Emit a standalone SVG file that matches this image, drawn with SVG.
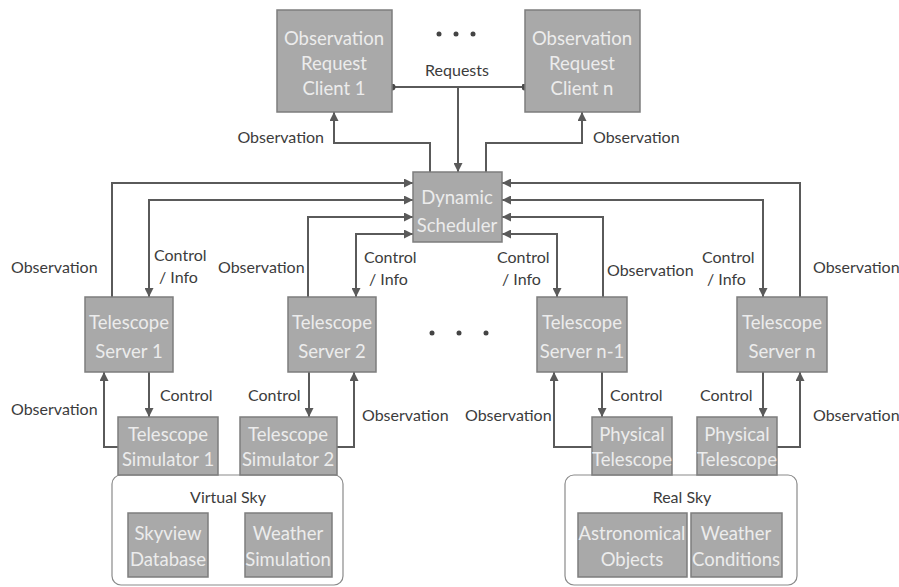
<svg xmlns="http://www.w3.org/2000/svg" width="899" height="587" viewBox="0 0 899 587">
<style>
.box{fill:#a9a9a9;stroke:#7d7d7d;stroke-width:1.5}
.bt{font-family:Lato,"Open Sans",sans-serif;font-size:18.5px;fill:#ececec;text-anchor:middle}
.lb{font-family:Lato,"Open Sans",sans-serif;font-size:16px;fill:#3c3c3c}
.c{fill:none;stroke:#5a5a5a;stroke-width:2}
.cont{fill:#ffffff;stroke:#8a8a8a;stroke-width:1.2}
.dot{fill:#444}
</style>
<defs>
<marker id="ar" viewBox="0 0 10 10" refX="10" refY="5" markerWidth="9" markerHeight="9" markerUnits="userSpaceOnUse" orient="auto-start-reverse">
<path d="M0,0 L10,5 L0,10 z" fill="#5a5a5a"/>
</marker>
<marker id="dt" viewBox="0 0 10 10" refX="5" refY="5" markerWidth="7" markerHeight="7" markerUnits="userSpaceOnUse">
<circle cx="5" cy="5" r="5" fill="#4a4a4a"/>
</marker>
</defs>
<rect width="899" height="587" fill="#ffffff"/>

<g id="virtual-sky">
<rect class="cont" x="112" y="475" width="231" height="110" rx="9"/>
<text class="lb" x="228" y="503" text-anchor="middle">Virtual Sky</text>
</g>
<g id="real-sky">
<rect class="cont" x="565" y="475" width="232" height="110" rx="9"/>
<text class="lb" x="682" y="503" text-anchor="middle">Real Sky</text>
</g>

<g id="connectors">
<path class="c" d="M392,87 H525" marker-start="url(#dt)" marker-end="url(#dt)"/>
<path class="c" d="M458,87 V172" marker-end="url(#ar)"/>
<path class="c" d="M430,172 V143 H334 V112" marker-end="url(#ar)"/>
<path class="c" d="M486,172 V143 H582 V112" marker-end="url(#ar)"/>
<path class="c" d="M112,297 V183 H413" marker-end="url(#ar)"/>
<path class="c" d="M149,297 V200 H413" marker-start="url(#ar)" marker-end="url(#ar)"/>
<path class="c" d="M308,297 V217 H413" marker-end="url(#ar)"/>
<path class="c" d="M356,297 V234 H413" marker-start="url(#ar)" marker-end="url(#ar)"/>
<path class="c" d="M800,297 V183 H502" marker-end="url(#ar)"/>
<path class="c" d="M763,297 V200 H502" marker-start="url(#ar)" marker-end="url(#ar)"/>
<path class="c" d="M603,297 V217 H502" marker-end="url(#ar)"/>
<path class="c" d="M557,297 V234 H502" marker-start="url(#ar)" marker-end="url(#ar)"/>
<path class="c" d="M118,447 H104 V372" marker-end="url(#ar)"/>
<path class="c" d="M149,372 V417" marker-end="url(#ar)"/>
<path class="c" d="M309,372 V417" marker-end="url(#ar)"/>
<path class="c" d="M337,447 H354 V372" marker-end="url(#ar)"/>
<path class="c" d="M592,447 H554 V372" marker-end="url(#ar)"/>
<path class="c" d="M602,372 V417" marker-end="url(#ar)"/>
<path class="c" d="M763,372 V417" marker-end="url(#ar)"/>
<path class="c" d="M777,447 H800 V372" marker-end="url(#ar)"/>
</g>

<g id="labels">
<text class="lb" x="457" y="76" text-anchor="middle">Requests</text>
<text class="lb" x="324" y="143" text-anchor="end">Observation</text>
<text class="lb" x="593" y="143">Observation</text>
<text class="lb" x="11" y="273">Observation</text>
<text class="lb" x="154" y="261">Control</text>
<text class="lb" x="159" y="283">/ Info</text>
<text class="lb" x="218" y="273">Observation</text>
<text class="lb" x="364" y="263">Control</text>
<text class="lb" x="369" y="285">/ Info</text>
<text class="lb" x="497" y="263">Control</text>
<text class="lb" x="502" y="285">/ Info</text>
<text class="lb" x="607" y="276">Observation</text>
<text class="lb" x="702" y="263">Control</text>
<text class="lb" x="707" y="285">/ Info</text>
<text class="lb" x="813" y="273">Observation</text>
<text class="lb" x="160" y="401">Control</text>
<text class="lb" x="248" y="401">Control</text>
<text class="lb" x="610" y="401">Control</text>
<text class="lb" x="700" y="401">Control</text>
<text class="lb" x="11" y="415">Observation</text>
<text class="lb" x="362" y="421">Observation</text>
<text class="lb" x="465" y="421">Observation</text>
<text class="lb" x="813" y="421">Observation</text>
</g>

<g id="ellipsis-top">
<circle class="dot" cx="439" cy="34" r="2.5"/>
<circle class="dot" cx="456" cy="34" r="2.5"/>
<circle class="dot" cx="473" cy="34" r="2.5"/>
</g>
<g id="ellipsis-mid">
<circle class="dot" cx="432" cy="333" r="2.5"/>
<circle class="dot" cx="459" cy="333" r="2.5"/>
<circle class="dot" cx="486" cy="333" r="2.5"/>
</g>

<g id="client-1">
<rect class="box" x="277" y="10" width="115" height="102"/>
<text class="bt" x="334" y="45">Observation</text>
<text class="bt" x="334" y="70">Request</text>
<text class="bt" x="334" y="95">Client 1</text>
</g>
<g id="client-n">
<rect class="box" x="525" y="10" width="115" height="102"/>
<text class="bt" x="582" y="45">Observation</text>
<text class="bt" x="582" y="70">Request</text>
<text class="bt" x="582" y="95">Client n</text>
</g>
<g id="scheduler">
<rect class="box" x="413" y="172" width="89" height="70"/>
<text class="bt" x="457" y="204">Dynamic</text>
<text class="bt" x="457" y="232">Scheduler</text>
</g>
<g id="server-1">
<rect class="box" x="85" y="297" width="88" height="75"/>
<text class="bt" x="129" y="329">Telescope</text>
<text class="bt" x="129" y="358">Server 1</text>
</g>
<g id="server-2">
<rect class="box" x="288" y="297" width="88" height="75"/>
<text class="bt" x="332" y="329">Telescope</text>
<text class="bt" x="332" y="358">Server 2</text>
</g>
<g id="server-n-1">
<rect class="box" x="537" y="297" width="90" height="75"/>
<text class="bt" x="582" y="329">Telescope</text>
<text class="bt" x="582" y="358">Server n-1</text>
</g>
<g id="server-n">
<rect class="box" x="737" y="297" width="90" height="75"/>
<text class="bt" x="782" y="329">Telescope</text>
<text class="bt" x="782" y="358">Server n</text>
</g>
<g id="simulator-1">
<rect class="box" x="118" y="417" width="100" height="58"/>
<text class="bt" x="168" y="441">Telescope</text>
<text class="bt" x="168" y="466">Simulator 1</text>
</g>
<g id="simulator-2">
<rect class="box" x="240" y="417" width="97" height="58"/>
<text class="bt" x="288" y="441">Telescope</text>
<text class="bt" x="288" y="466">Simulator 2</text>
</g>
<g id="physical-1">
<rect class="box" x="592" y="417" width="80" height="58"/>
<text class="bt" x="632" y="441">Physical</text>
<text class="bt" x="632" y="466">Telescope</text>
</g>
<g id="physical-2">
<rect class="box" x="697" y="417" width="80" height="58"/>
<text class="bt" x="737" y="441">Physical</text>
<text class="bt" x="737" y="466">Telescope</text>
</g>
<g id="skyview">
<rect class="box" x="128" y="513" width="80" height="64"/>
<text class="bt" x="168" y="540">Skyview</text>
<text class="bt" x="168" y="566">Database</text>
</g>
<g id="weather-sim">
<rect class="box" x="245" y="513" width="87" height="64"/>
<text class="bt" x="288" y="540">Weather</text>
<text class="bt" x="288" y="566">Simulation</text>
</g>
<g id="astro">
<rect class="box" x="578" y="513" width="109" height="64"/>
<text class="bt" x="632" y="540">Astronomical</text>
<text class="bt" x="632" y="566">Objects</text>
</g>
<g id="weather-cond">
<rect class="box" x="691" y="513" width="91" height="64"/>
<text class="bt" x="736" y="540">Weather</text>
<text class="bt" x="736" y="566">Conditions</text>
</g>
</svg>
